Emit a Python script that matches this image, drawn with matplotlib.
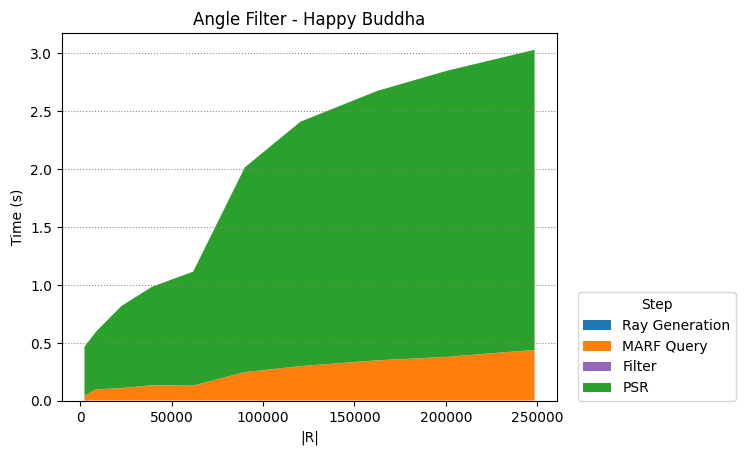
import matplotlib
matplotlib.use("Agg")
import matplotlib.pyplot as plt
import numpy as np

r_sizes = [2200, 8500, 22450, 39260, 61700, 89980, 120480, 162450, 200800, 248600]
total = [0.468, 0.598, 0.82, 0.986, 1.116, 2.016, 2.41, 2.675, 2.85, 3.03]
ray_gen = [0.004, 0.004, 0.004, 0.004, 0.004, 0.004, 0.004, 0.004, 0.004, 0.004]
marf_query = [0.040, 0.096, 0.106, 0.131, 0.128, 0.244, 0.296, 0.346, 0.376, 0.436]
filter_t = [0.001, 0.001, 0.001, 0.001, 0.001, 0.001, 0.001, 0.001, 0.001, 0.001]
psr = [t - a - b - c for t, a, b, c in zip(total, ray_gen, marf_query, filter_t)]

labels = ["Ray Generation", "MARF Query", "Filter", "PSR"]
colors = ["#1f77b4", "#ff7f0e", "#9467bd", "#2ca02c"]

fig = plt.figure(figsize=(7.45, 4.55), dpi=100)
ax = fig.add_axes([0.0832, 0.1187, 0.6645, 0.8088])
ax.stackplot(r_sizes, ray_gen, marf_query, filter_t, psr, labels=labels, colors=colors)
ax.set_ylim(0, 3.175)
ax.set_xticks([0, 50000, 100000, 150000, 200000, 250000])
ax.set_yticks([0.0, 0.5, 1.0, 1.5, 2.0, 2.5, 3.0])
ax.grid(axis="y", linestyle=":", color="gray", alpha=0.9)
ax.set_title("Angle Filter - Happy Buddha")
ax.set_xlabel("|R|")
ax.set_ylabel("Time (s)")
ax.legend(title="Step", loc="lower left", bbox_to_anchor=(1.042, 0.0), borderaxespad=0)
fig.savefig("out.png", dpi=100)
